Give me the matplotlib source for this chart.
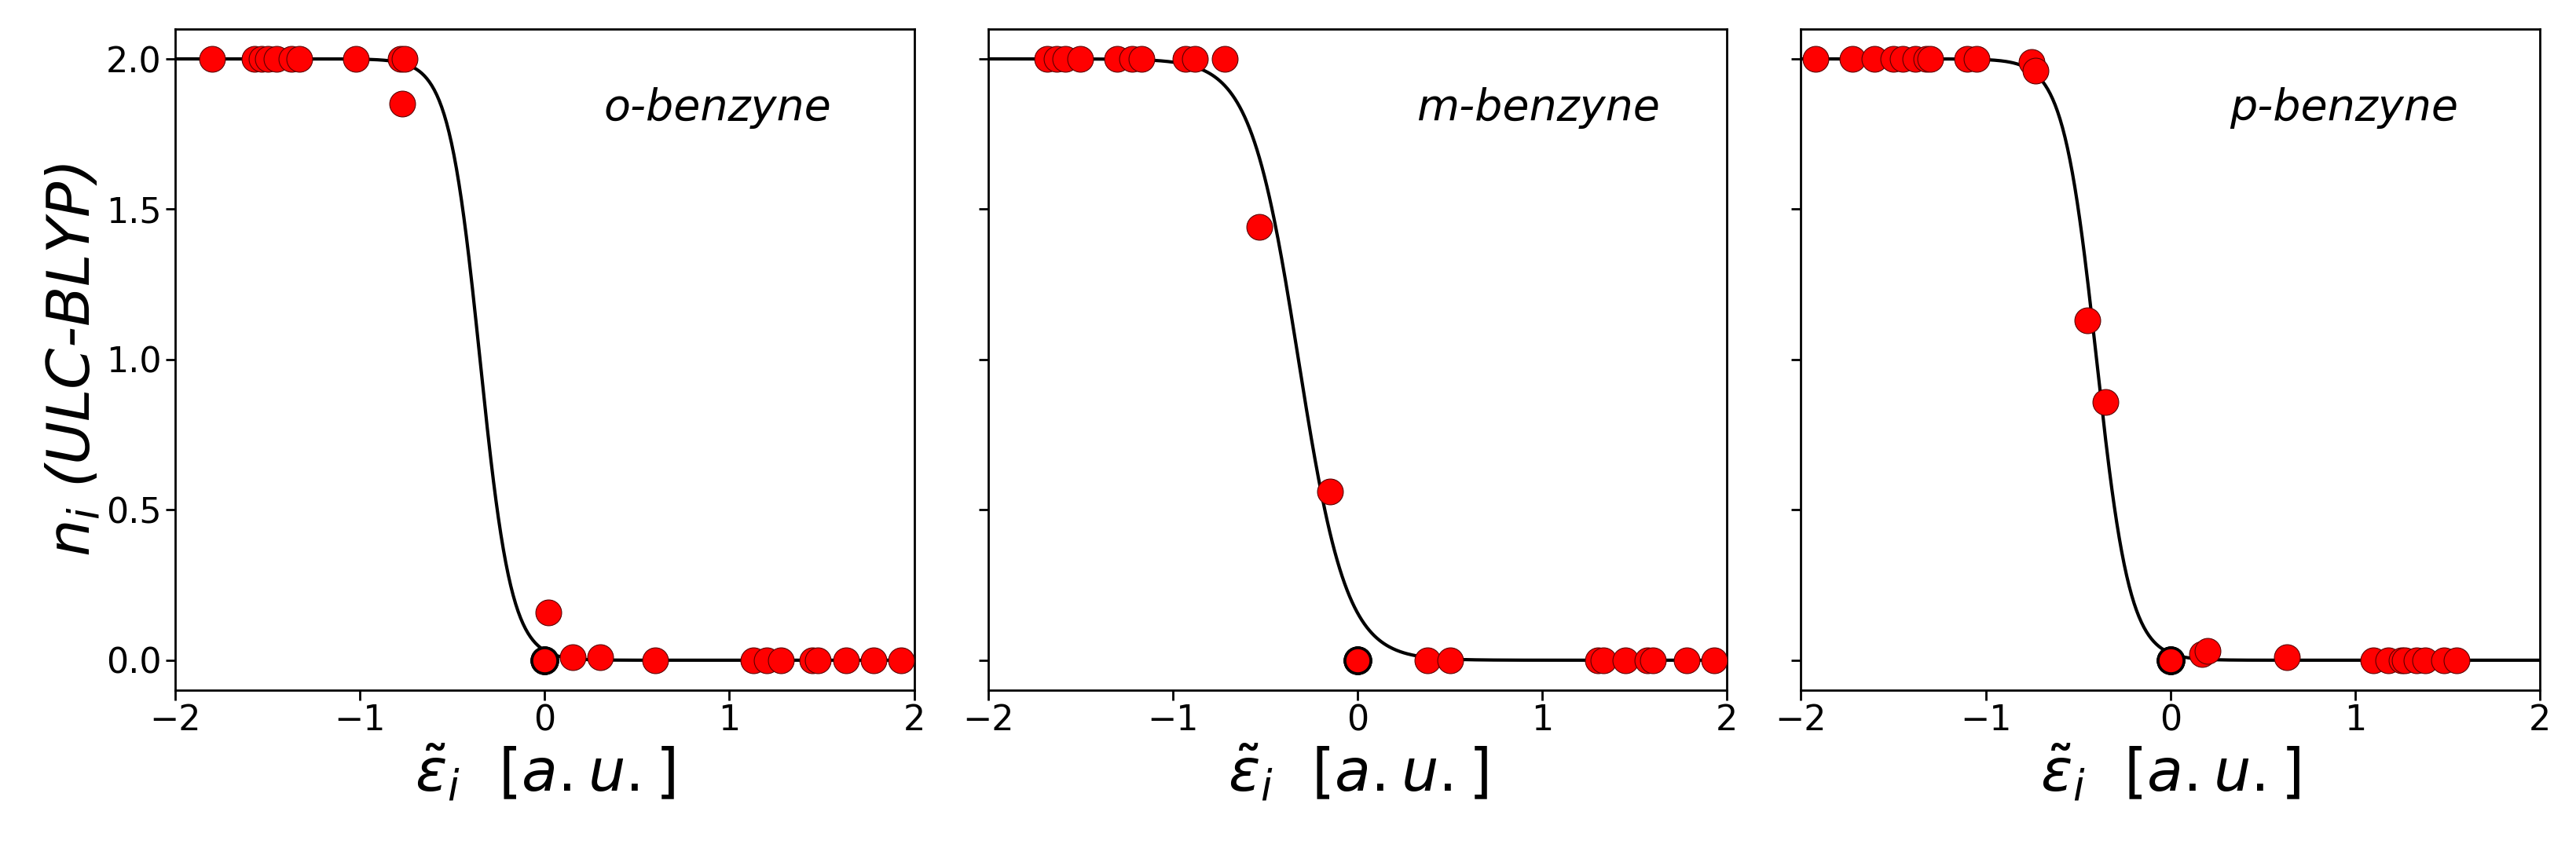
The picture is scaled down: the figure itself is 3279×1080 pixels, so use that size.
import numpy as np
import matplotlib

matplotlib.use("Agg")
import matplotlib.pyplot as plt

NAMES = ["o-benzyne", "m-benzyne", "p-benzyne"]

# occupation numbers vs. shifted orbital energies
EPS_O = [-1.8, -1.57, -1.53, -1.5, -1.45, -1.37, -1.33, -1.02, -0.78, -0.76, -0.77,
         0.0, 0.0, 0.0, 0.02, 0.15, 0.3, 0.6, 1.13, 1.2, 1.28, 1.45, 1.48, 1.63, 1.78, 1.93]
OCC_O = [2.0, 2.0, 2.0, 2.0, 2.0, 2.0, 2.0, 2.0, 2.0, 2.0, 1.85,
         0.0, 0.0, 0.0, 0.16, 0.01, 0.01, 0.0, 0.0, 0.0, 0.0, 0.0, 0.0, 0.0, 0.0, 0.0]

EPS_M = [-1.68, -1.63, -1.58, -1.5, -1.3, -1.22, -1.17, -0.93, -0.88, -0.72,
         -0.53, -0.15, 0.0, 0.0, 0.0, 0.38, 0.5, 1.3, 1.33, 1.45, 1.57, 1.6, 1.78, 1.93]
OCC_M = [2.0, 2.0, 2.0, 2.0, 2.0, 2.0, 2.0, 2.0, 2.0, 2.0,
         1.44, 0.56, 0.0, 0.0, 0.0, 0.0, 0.0, 0.0, 0.0, 0.0, 0.0, 0.0, 0.0, 0.0]

EPS_P = [-1.92, -1.72, -1.6, -1.5, -1.45, -1.38, -1.32, -1.3, -1.1, -1.05, -0.75, -0.73,
         -0.45, -0.35, 0.0, 0.0, 0.0, 0.17, 0.2, 0.63, 1.1, 1.18, 1.25, 1.27, 1.33, 1.38, 1.48, 1.55]
OCC_P = [2.0, 2.0, 2.0, 2.0, 2.0, 2.0, 2.0, 2.0, 2.0, 2.0, 1.99, 1.96,
         1.13, 0.86, 0.0, 0.0, 0.0, 0.02, 0.03, 0.01, 0.0, 0.0, 0.0, 0.0, 0.0, 0.0, 0.0, 0.0]

# fitted Fermi-like curve parameters (centre, width)
FIT_MU = [-0.35, -0.32, -0.40]
FIT_S = [0.085, 0.13, 0.09]

DATA = [(EPS_O, OCC_O), (EPS_M, OCC_M), (EPS_P, OCC_P)]

fig, axes = plt.subplots(1, 3, figsize=(32.79, 10.8), dpi=100, sharey=True)
fig.subplots_adjust(left=0.068, right=0.986, top=0.966, bottom=0.186, wspace=0.1)

xx = np.linspace(-2, 2, 600)
for ax, name, (eps, occ), mu, s in zip(axes, NAMES, DATA, FIT_MU, FIT_S):
    ax.plot(xx, 2.0 / (1.0 + np.exp((xx - mu) / s)), color="black", linewidth=3, zorder=2)
    eps = np.array(eps)
    occ = np.array(occ)
    zero = eps == 0.0
    ax.scatter(eps[~zero], occ[~zero], s=560, c="red", edgecolors="#5a0000",
               linewidths=0.8, zorder=3)
    ax.scatter(eps[zero], occ[zero], s=560, c="red", edgecolors="black",
               linewidths=2.5, zorder=3)
    ax.text(0.58, 0.88, name, transform=ax.transAxes, fontsize=40,
            fontstyle="italic", ha="left", va="center")
    ax.set_xlim(-2, 2)
    ax.set_ylim(-0.1, 2.1)
    ax.set_xticks([-2, -1, 0, 1, 2])
    ax.set_yticks([0.0, 0.5, 1.0, 1.5, 2.0])
    ax.tick_params(labelsize=32, length=9, width=2)
    for sp in ax.spines.values():
        sp.set_linewidth(2)
    ax.set_xlabel(r"$\tilde{\varepsilon}_i\ \ [a.u.]$", fontsize=54)

axes[0].set_ylabel(r"$n_i$ (ULC-BLYP)", fontsize=54, fontstyle="italic")

plt.savefig("out.png", dpi=100, facecolor="white")
plt.close()
